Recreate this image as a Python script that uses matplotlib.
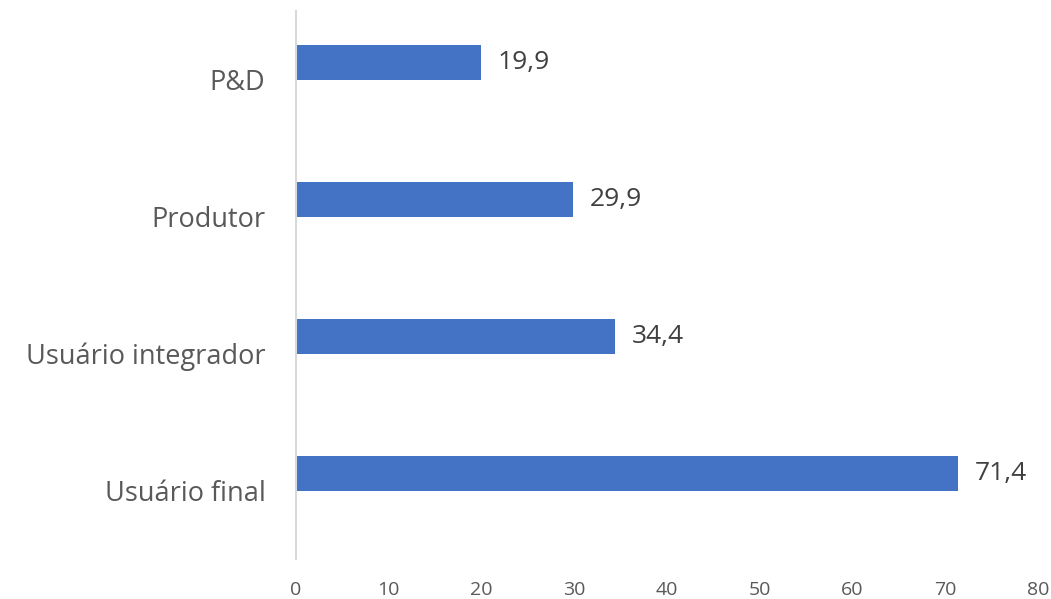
import matplotlib.pyplot as plt

# Datos del gráfico
categorias = ['Usuário final', 'Usuário integrador', 'Produtor', 'P&D']
valores = [71.4, 34.4, 29.9, 19.9]
ticks_x = [0, 10, 20, 30, 40, 50, 60, 70, 80]

plt.rcParams['font.family'] = ['Open Sans', 'DejaVu Sans']

fig = plt.figure(figsize=(10.51, 5.99), dpi=100)
ax = fig.add_axes([296 / 1051, 1 - 559 / 599, (1038 - 296) / 1051, (559 - 11) / 599])

pos = list(range(len(categorias)))
# Las barras quedan algo por encima del centro de cada categoría (como en Excel)
desplazamiento = 0.125
barras = ax.barh([p + desplazamiento for p in pos], valores, height=0.26, color='#4472C4')

# Etiquetas con coma decimal
ax.bar_label(barras, labels=[f'{v:.1f}'.replace('.', ',') for v in valores],
             padding=12, fontsize=19, color='#404040')

ax.set_ylim(-0.5, len(categorias) - 0.5)
ax.set_xlim(0, 80)
ax.set_xticks(ticks_x)
ax.set_yticks(pos)
ax.set_yticklabels(categorias, fontsize=19.5, color='#595959')
ax.tick_params(axis='x', labelsize=14, labelcolor='#595959', length=0, pad=16)
ax.tick_params(axis='y', length=0, pad=22)

for lado in ['top', 'right', 'bottom']:
    ax.spines[lado].set_visible(False)
ax.spines['left'].set_color('#D9D9D9')
ax.spines['left'].set_linewidth(1.5)

fig.savefig('out.png', dpi=100)
